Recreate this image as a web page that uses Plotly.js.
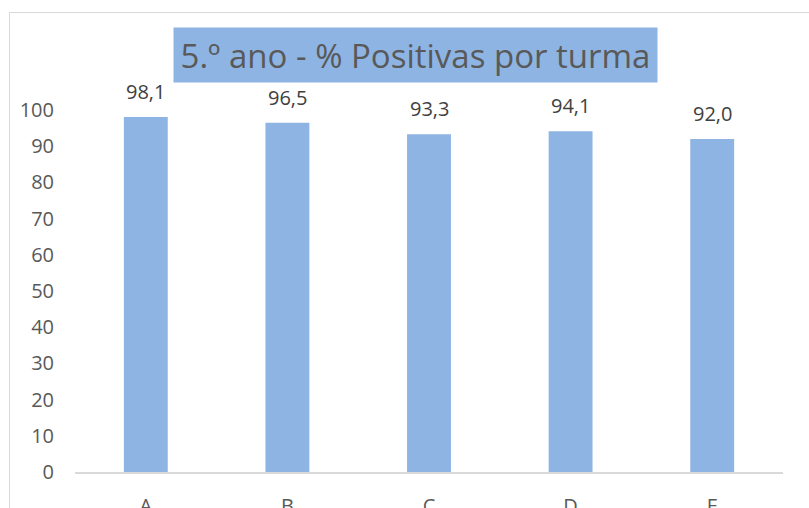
<!DOCTYPE html>
<html>
<head>
<meta charset="utf-8">
<script src="https://cdn.plot.ly/plotly-3.0.1.min.js"></script>
<style>html,body{margin:0;padding:0;background:#fff;overflow:hidden}#chart{width:809px;height:508px}</style>
</head>
<body>
<div id="chart"></div>
<script>
const categories = ["A", "B", "C", "D", "E"];
const values = [98.1, 96.5, 93.3, 94.1, 92.0];
const yTicks = [0, 10, 20, 30, 40, 50, 60, 70, 80, 90, 100];
const titleText = "5.º ano - % Positivas por turma";

const FONT = "Open Sans, Liberation Sans, sans-serif";
const BAR = "#8eb4e3";

const labelAnn = categories.map((c, i) => ({
  x: c, y: values[i], xref: "x", yref: "y",
  text: values[i].toFixed(1).replace(".", ","),
  showarrow: false, yanchor: "bottom", yshift: 10,
  font: {family: FONT, size: 20, color: "#404040"}
}));

const titleAnn = {
  x: 0.481, y: 1.152, xref: "paper", yref: "paper",
  xanchor: "center", yanchor: "middle",
  text: titleText, showarrow: false,
  bgcolor: BAR, width: 483, height: 54, borderpad: 0,
  font: {family: FONT, size: 33, color: "#595959"}
};

const data = [{
  type: "bar", x: categories, y: values,
  marker: {color: BAR}, hoverinfo: "none"
}];

const layout = {
  width: 809, height: 508,
  margin: {l: 75, r: 26, t: 110, b: 36},
  paper_bgcolor: "#fff", plot_bgcolor: "#fff",
  bargap: 0.69,
  showlegend: false,
  xaxis: {
    type: "category", showgrid: false, zeroline: false,
    showline: true, linecolor: "#d9d9d9", linewidth: 2,
    ticks: "", ticklabelstandoff: 15,
    tickfont: {family: FONT, size: 20, color: "#595959"}
  },
  yaxis: {
    range: [0, 100], tickvals: yTicks, showgrid: false, zeroline: false,
    showline: false, ticks: "", ticklabelstandoff: 20,
    tickfont: {family: FONT, size: 20, color: "#595959"}
  },
  annotations: [titleAnn, ...labelAnn],
  shapes: [{
    type: "rect", xref: "paper", yref: "paper",
    x0: (9.5 - 75) / 708, x1: (830 - 75) / 708,
    y0: (472 - 530) / 362, y1: (472 - 12.5) / 362,
    line: {color: "#d9d9d9", width: 1}, fillcolor: "rgba(0,0,0,0)", layer: "below"
  }]
};

Plotly.newPlot("chart", data, layout, {staticPlot: true, displayModeBar: false});
</script>
</body>
</html>
